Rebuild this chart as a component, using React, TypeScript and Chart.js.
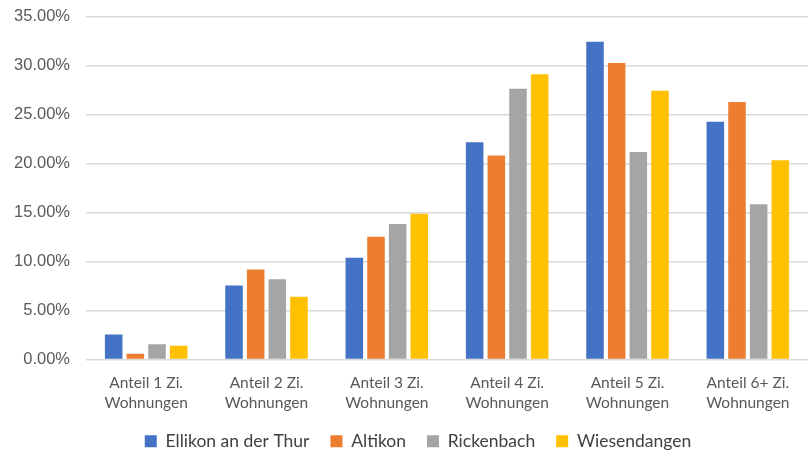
import React, { useEffect, useRef } from "react";
import { Chart, registerables } from "chart.js";

Chart.register(...registerables);

const categories: string[][] = [
  ["Anteil 1 Zi.", "Wohnungen"],
  ["Anteil 2 Zi.", "Wohnungen"],
  ["Anteil 3 Zi.", "Wohnungen"],
  ["Anteil 4 Zi.", "Wohnungen"],
  ["Anteil 5 Zi.", "Wohnungen"],
  ["Anteil 6+ Zi.", "Wohnungen"],
];

const ellikon = [2.55, 7.55, 10.4, 22.2, 32.45, 24.3];
const altikon = [0.6, 9.2, 12.55, 20.85, 30.3, 26.3];
const rickenbach = [1.55, 8.2, 13.85, 27.65, 21.2, 15.85];
const wiesendangen = [1.4, 6.4, 14.9, 29.15, 27.45, 20.35];

const seriesNames = ["Ellikon an der Thur", "Altikon", "Rickenbach", "Wiesendangen"];
const seriesColors = ["#4472C4", "#ED7D31", "#A5A5A5", "#FFC000"];

const yMax = 35;
const yStep = 5;

// horizontal nudge of the legend row, in px
const legendShift = 14;

const legendNudge = {
  id: "legendNudge",
  afterLayout(chart: any) {
    const lg = chart.legend;
    if (!lg) return;
    lg.left += legendShift;
    lg.right += legendShift;
  },
};

export default function App() {
  const canvasRef = useRef<HTMLCanvasElement | null>(null);

  useEffect(() => {
    document.body.style.margin = "0";
    const canvas = canvasRef.current;
    if (!canvas) return;
    const values = [ellikon, altikon, rickenbach, wiesendangen];
    const chart = new Chart(canvas, {
      type: "bar",
      data: {
        labels: categories,
        datasets: values.map((data, i) => ({
          label: seriesNames[i],
          data,
          backgroundColor: seriesColors[i],
          borderWidth: 0,
          categoryPercentage: 0.72,
          barPercentage: 0.81,
        })),
      },
      plugins: [legendNudge],
      options: {
        animation: false,
        responsive: false,
        maintainAspectRatio: false,
        layout: { padding: { top: 0, left: 0, right: 3, bottom: -8 } },
        plugins: {
          tooltip: { enabled: false },
          legend: {
            position: "bottom",
            labels: {
              boxWidth: 12,
              boxHeight: 12,
              padding: 21,
              color: "#404040",
              font: { family: "Lato", size: 17.5 },
            },
          },
        },
        scales: {
          x: {
            afterFit: (scale: any) => {
              scale.height = 52;
            },
            grid: { display: false, drawTicks: false },
            border: { display: false },
            ticks: {
              color: "#595959",
              padding: 13,
              maxRotation: 0,
              font: { family: "Lato", size: 15.5, lineHeight: 1.3 },
            },
          },
          y: {
            min: 0,
            max: yMax,
            afterFit: (scale: any) => {
              scale.width = 86;
            },
            grid: {
              color: "#d9d9d9",
              lineWidth: 1.5,
              drawTicks: true,
              tickLength: 9,
              tickColor: "rgba(0,0,0,0)",
            },
            border: { display: false },
            ticks: {
              stepSize: yStep,
              padding: 7,
              color: "#595959",
              font: { family: "'Liberation Sans', Arial, sans-serif", size: 16.5 },
              callback: (v: any) => Number(v).toFixed(2) + "%",
            },
          },
        },
      },
    });
    return () => chart.destroy();
  }, []);

  return (
    <div style={{ width: 811, height: 452, background: "#ffffff" }}>
      <canvas ref={canvasRef} width={811} height={452} />
    </div>
  );
}
